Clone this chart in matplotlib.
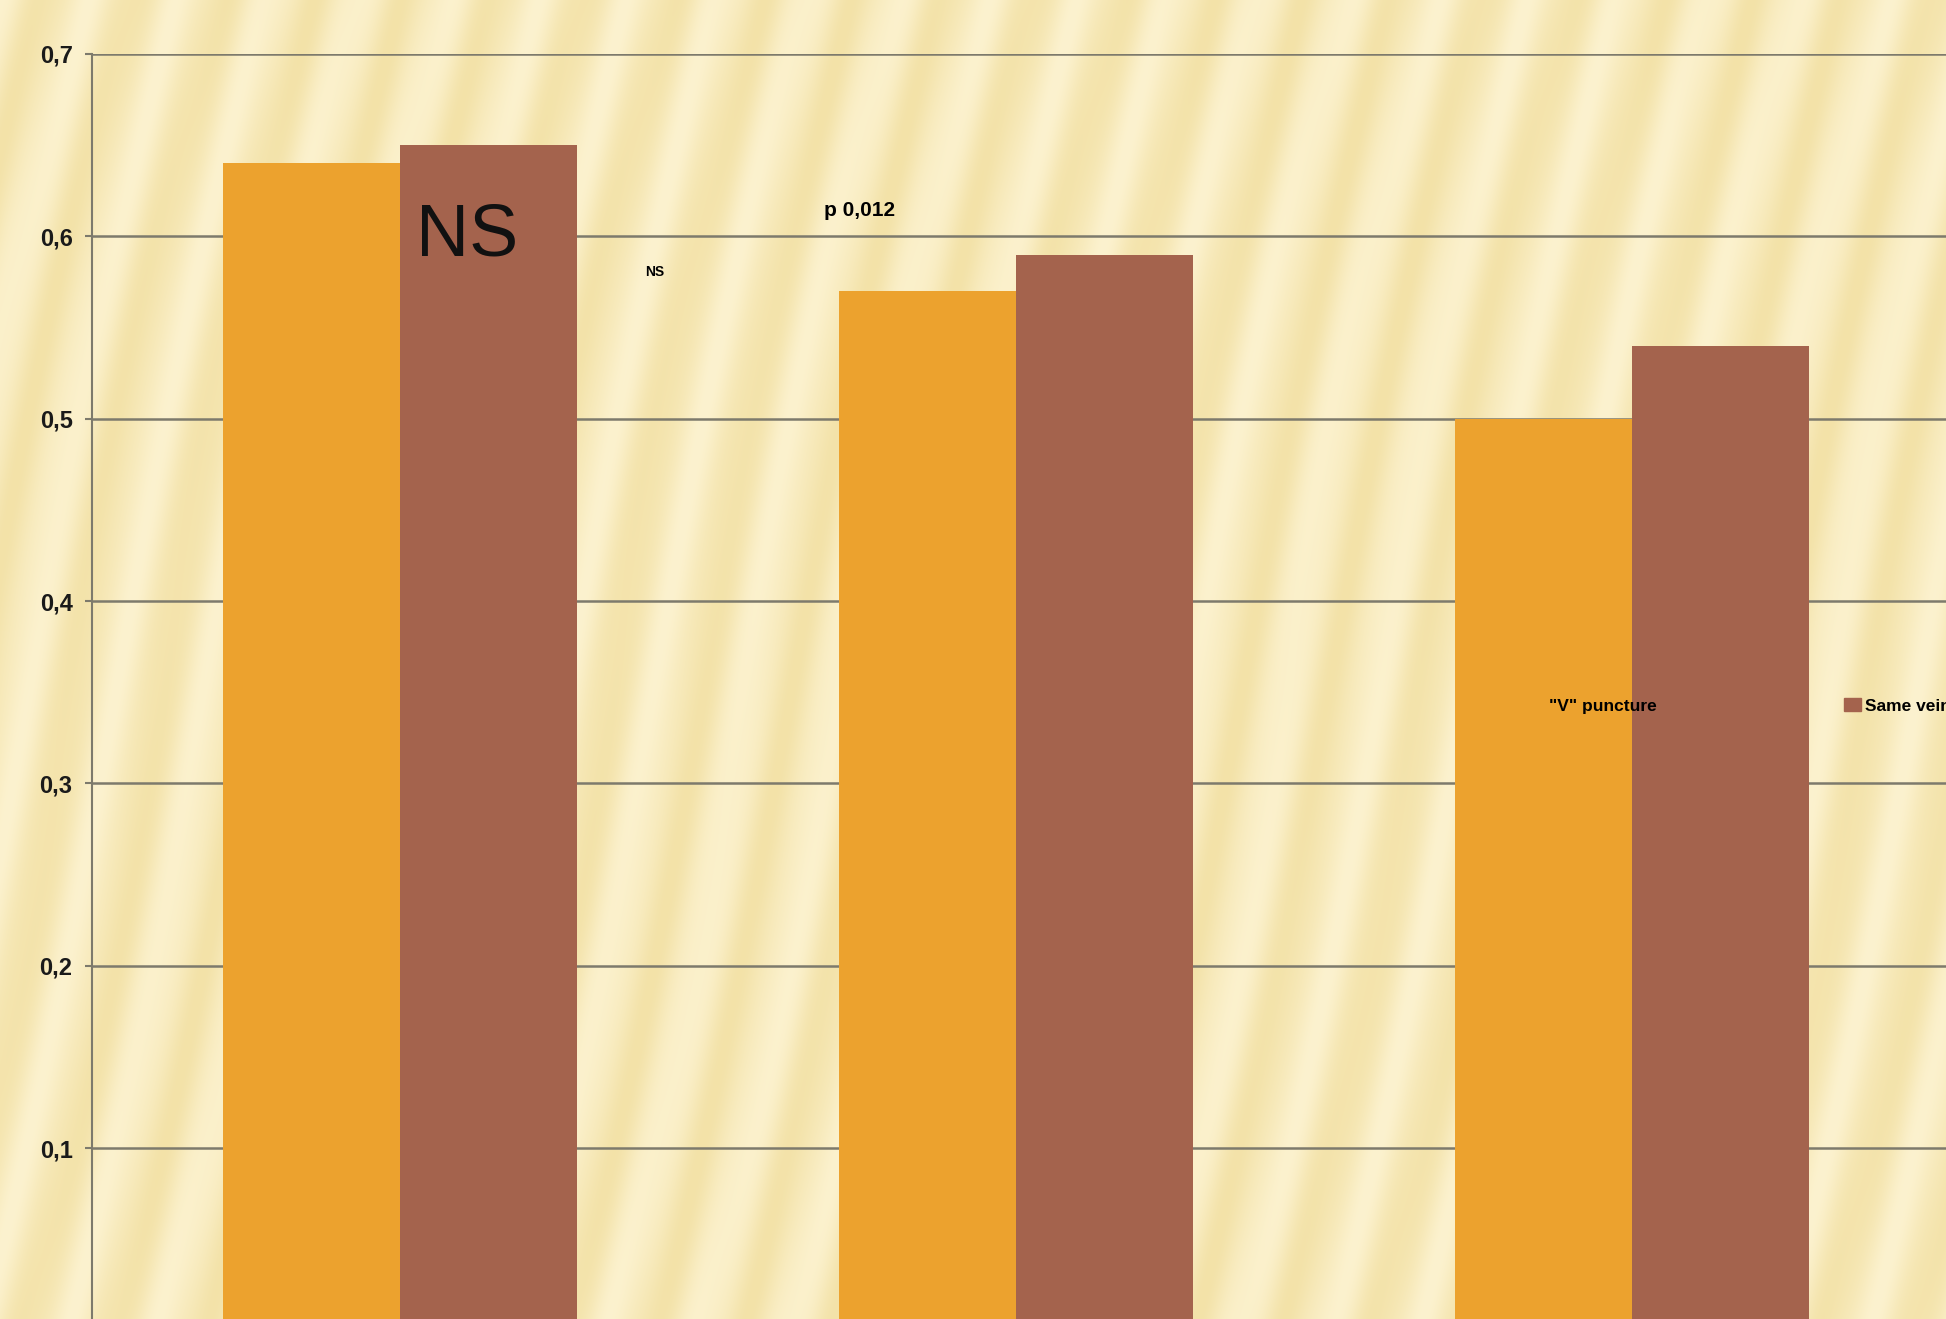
import numpy as np
import matplotlib
matplotlib.use("Agg")
import matplotlib.pyplot as plt
from matplotlib.patches import Patch

W, H = 1946, 1319
DPI = 100

series_names = ['"V" puncture', 'Same vein']
v_puncture = [0.64, 0.57, 0.50]
same_vein = [0.65, 0.59, 0.54]
yticks = [0.1, 0.2, 0.3, 0.4, 0.5, 0.6, 0.7]
ytick_labels = ["0,1", "0,2", "0,3", "0,4", "0,5", "0,6", "0,7"]

orange = "#eca22e"
brown = "#a4634d"
grid_col = "#7d7a6c"

plt.rcParams['font.family'] = ['Liberation Sans', 'DejaVu Sans']

fig = plt.figure(figsize=(W / DPI, H / DPI), dpi=DPI)

# soft striped cream background (decoration only)
yy, xx = np.mgrid[0:H, 0:W]
phase = (xx - 0.22 * (H - yy)) / 90.0 + 0.15 * np.sin(yy / 220.0)
t = 0.5 + 0.5 * np.sin(2 * np.pi * phase)
t2 = 0.5 + 0.5 * np.sin(2 * np.pi * (xx - 0.2 * (H - yy)) / 41.0)
t = 0.88 * t + 0.12 * t2
light = np.array([252, 242, 207]) / 255.0
dark = np.array([243, 226, 168]) / 255.0
bg = light[None, None, :] * (1 - t[..., None]) + dark[None, None, :] * t[..., None]
bgax = fig.add_axes([0, 0, 1, 1], zorder=0)
bgax.imshow(bg, aspect='auto', interpolation='bilinear')
bgax.axis('off')

ax = fig.add_axes([92 / W, -0.0087, 0.96, 0.9678], zorder=1)
ax.patch.set_alpha(0)

x = np.arange(len(v_puncture))
w = 0.2873
ax.bar(x - w / 2, v_puncture, w, color=orange, zorder=3)
ax.bar(x + w / 2, same_vein, w, color=brown, zorder=3)

ax.set_xlim(-0.5, 2.532)
ax.set_ylim(0, 0.7)
ax.set_yticks(yticks)
ax.set_yticklabels(ytick_labels, fontsize=17, fontweight='bold', color='#1a1a1a')
ax.tick_params(axis='y', length=5, width=1.5, color=grid_col, pad=9)
ax.set_xticks([])
ax.grid(axis='y', color=grid_col, linewidth=1.8, zorder=1)
for s in ['top', 'right', 'bottom']:
    ax.spines[s].set_visible(False)
ax.spines['left'].set_color(grid_col)
ax.spines['left'].set_linewidth(1.5)

# annotations
fig.text(467 / W, 1 - 236 / H, "NS", fontsize=53, ha='center', va='center', color='#111111', zorder=5)
fig.text(655 / W, 1 - 272 / H, "NS", fontsize=10, fontweight='bold', ha='center', va='center', zorder=5)
fig.text(860 / W, 1 - 211 / H, "p 0,012", fontsize=15, fontweight='bold', ha='center', va='center', zorder=5)

handles = [Patch(color=orange), Patch(color=brown)]
leg = fig.legend(handles, series_names, loc='center left', bbox_to_anchor=(1528 / W, 1 - 706 / H),
                 ncol=2, frameon=False, prop={'weight': 'bold', 'size': 12.5},
                 handlelength=1.0, handleheight=0.75, handletextpad=0.2, columnspacing=10.8,
                 borderpad=0, borderaxespad=0)
leg.set_zorder(6)

fig.savefig("out.png", dpi=DPI)
